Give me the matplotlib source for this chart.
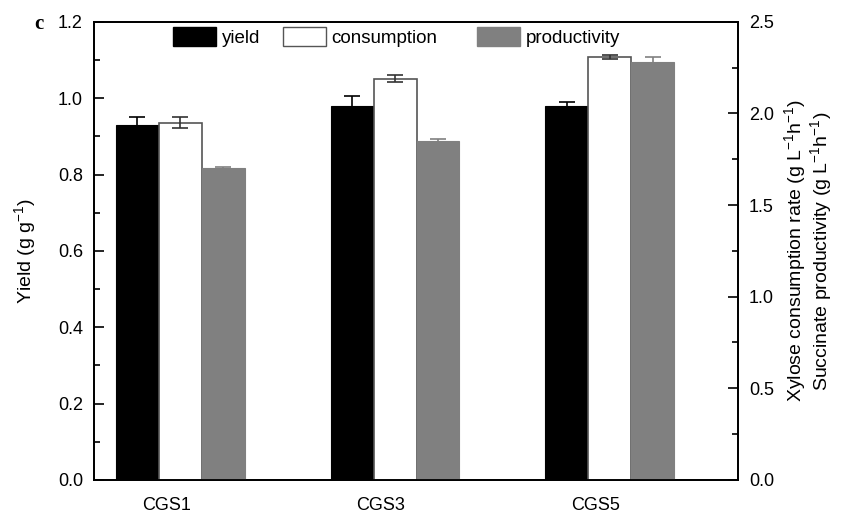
import numpy as np
import matplotlib.pyplot as plt
from matplotlib.patches import Patch
from matplotlib.ticker import MultipleLocator

plt.rcParams['font.family'] = ['Liberation Sans', 'DejaVu Sans']
plt.rcParams['mathtext.fontset'] = 'custom'
plt.rcParams['mathtext.rm'] = 'Liberation Sans'
plt.rcParams['mathtext.it'] = 'Liberation Sans:italic'

strains = ['CGS1', 'CGS3', 'CGS5']

# yield (left axis, g/g)
yield_mean = [0.93, 0.98, 0.98]
yield_err = [0.02, 0.027, 0.009]

# xylose consumption rate and succinate productivity (right axis, g/L/h)
cons_mean = [1.95, 2.19, 2.31]
cons_err = [0.03, 0.02, 0.01]
prod_mean = [1.70, 1.85, 2.28]
prod_err = [0.01, 0.01, 0.03]

x = np.arange(len(strains))
w = 0.2

fig = plt.figure(figsize=(8.63, 5.21), dpi=100)
ax = fig.add_axes([0.109, 0.079, 0.746, 0.879])
ax2 = ax.twinx()

ax.bar(x - w, yield_mean, w, color='black', edgecolor='black', linewidth=0.8)
ax.errorbar(x - w, yield_mean, yerr=yield_err, fmt='none', ecolor='black',
            elinewidth=1.2, capsize=6, capthick=1.2)

ax2.bar(x, cons_mean, w, color='white', edgecolor='#555555', linewidth=1.2)
ax2.errorbar(x, cons_mean, yerr=cons_err, fmt='none', ecolor='#333333',
             elinewidth=1.2, capsize=6, capthick=1.2)
ax2.bar(x + w, prod_mean, w, color='#808080', edgecolor='#808080', linewidth=0.8)
ax2.errorbar(x + w, prod_mean, yerr=prod_err, fmt='none', ecolor='#808080',
             elinewidth=1.2, capsize=6, capthick=1.2)

ax.set_xlim(-0.4, 2.595)
ax.set_ylim(0, 1.2)
ax2.set_ylim(0, 2.5)

ax.set_xticks(x - 0.065)
ax.set_xticklabels(strains, fontsize=13)
ax.tick_params(axis='x', length=0, pad=12)

ax.yaxis.set_major_locator(MultipleLocator(0.2))
ax.yaxis.set_minor_locator(MultipleLocator(0.1))
ax.yaxis.set_major_formatter(plt.FormatStrFormatter('%.1f'))
ax.tick_params(axis='y', which='major', direction='in', length=7, width=1.2,
               labelsize=13, pad=8)
ax.tick_params(axis='y', which='minor', direction='in', length=4, width=1.2)

ax2.yaxis.set_major_locator(MultipleLocator(0.5))
ax2.yaxis.set_minor_locator(MultipleLocator(0.25))
ax2.yaxis.set_major_formatter(plt.FormatStrFormatter('%.1f'))
ax2.tick_params(axis='y', which='major', direction='in', length=7, width=1.2,
                labelsize=13, pad=8)
ax2.tick_params(axis='y', which='minor', direction='in', length=4, width=1.2)

for a in (ax, ax2):
    for s in a.spines.values():
        s.set_linewidth(1.3)

ax.set_ylabel('Yield (g g$^{-1}$)', fontsize=14, labelpad=14)
ax2.set_ylabel('Xylose consumption rate (g L$^{-1}$h$^{-1}$)\n'
               'Succinate productivity (g L$^{-1}$h$^{-1}$)',
               fontsize=14, labelpad=6, linespacing=1.0)

# one legend per series so each entry sits where it should along the top
entries = [(Patch(facecolor='black', edgecolor='black'), 'yield', 173),
           (Patch(facecolor='white', edgecolor='#555555'), 'consumption', 283),
           (Patch(facecolor='#808080', edgecolor='#808080'), 'productivity', 477)]
W, H = 863, 521
for handle, label, px in entries:
    leg = fig.legend([handle], [label], loc='upper left',
                     bbox_to_anchor=(px / W, 1 - 27 / H), frameon=False,
                     fontsize=13.5, handlelength=2.3, handleheight=1.2,
                     handletextpad=0.3, borderpad=0, borderaxespad=0)

fig.text(0.04, 0.945, 'c', fontsize=15, fontweight='bold',
         family='Liberation Serif')

fig.savefig('out.png', dpi=100)
